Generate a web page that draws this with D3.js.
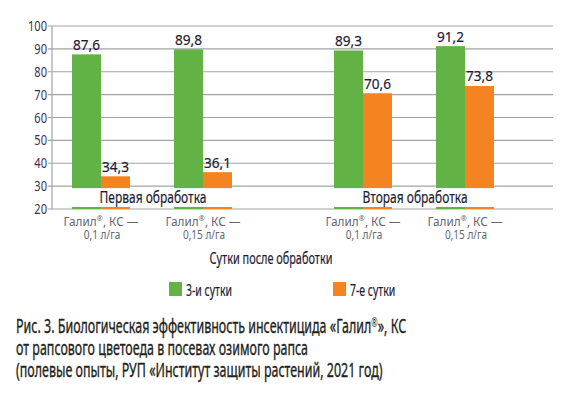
<!DOCTYPE html>
<html>
<head>
<meta charset="utf-8">
<script src="https://cdn.jsdelivr.net/npm/d3@7"></script>
<style>
  body { margin: 0; background: #fff; }
  svg { display: block; font-family: "Noto Sans", "Open Sans", sans-serif; }
</style>
</head>
<body>
<svg id="chart" width="575" height="399"></svg>
<script>
// data
let groups = ["Первая обработка", "Вторая обработка"];
let doses = ["0,1 л/га", "0,15 л/га"];
let seriesNames = ["3-и сутки", "7-е сутки"];
let day3 = [[87.6, 89.8], [89.3, 91.2]];
let day7 = [[34.3, 36.1], [70.6, 73.8]];
let yTicks = [20, 30, 40, 50, 60, 70, 80, 90, 100];
let axisTitle = "Сутки после обработки";
let drug = "Галил®, КС —";
let caption = [
	"Рис. 3. Биологическая эффективность инсектицида «Галил®», КС",
	"от рапсового цветоеда в посевах озимого рапса",
	"(полевые опыты, РУП «Институт защиты растений, 2021 год)"
];

let colours = ["#63b246", "#f38421"];
let ink = "#1e1c33";

let svg = d3.select("#chart");
let plotL = 52, plotR = 553, plotT = 26, plotB = 209,
	barW = 29;

// the original uses a condensed face; squeeze a normal one horizontally
// so that a sample string gets the width it has in the picture
function squeezeFor(str, size, width) {
	let probe = svg.append("text").attr("font-size", size).text(str.replace("®", ""));
	let k = width / probe.node().getComputedTextLength();
	probe.remove();
	return k;
}

// text with its own x-scale, placed at x,y
function label(x, y, size, k, fill, anchor, weight) {
	return svg.append("g")
		.attr("transform", `translate(${x},${y}) scale(${k},1)`)
		.append("text")
		.attr("text-anchor", anchor || "start")
		.attr("font-size", size)
		.attr("fill", fill)
		.attr("stroke", weight ? fill : "none")
		.attr("stroke-width", weight || 0);
}

// superscript ® inside a text (or tspan)
function withReg(t, str, size, rise) {
	let parts = str.split("®");
	t.append("tspan").text(parts[0]);
	t.append("tspan").attr("font-size", size).attr("dy", -rise).attr("stroke-width", 0).text("®");
	t.append("tspan").attr("dy", rise).text(parts[1]);
}

let y = d3.scaleLinear().domain([20, 100]).range([plotB, plotT]);
let xOuter = d3.scaleBand().domain(groups).range([21, 545]);
let xInner = d3.scalePoint().domain(doses).range([80, 182]);

// gridlines
svg.append("g")
	.selectAll("line")
	.data(yTicks)
	.join("line")
	.attr("x1", plotL - 4).attr("x2", plotR)
	.attr("y1", d => y(d)).attr("y2", d => y(d))
	.attr("stroke", "#a3a3a3").attr("stroke-width", 1.2);

// y axis line
svg.append("line")
	.attr("x1", plotL).attr("x2", plotL)
	.attr("y1", y(100)).attr("y2", y(20))
	.attr("stroke", "#a3a3a3").attr("stroke-width", 1.2);

let kTick = squeezeFor("100", 14.5, 19);
yTicks.forEach(d => {
	label(plotL - 5, y(d) + 5, 14.5, kTick, "#3b3150", "end").text(d);
});

// bars
let rows = [];
groups.forEach((g, gi) => {
	doses.forEach((d, di) => {
		let cx = xOuter(g) + xInner(d);
		rows.push({g, d, cx, v: day3[gi][di], s: 0});
		rows.push({g, d, cx, v: day7[gi][di], s: 1});
	});
});

svg.append("g")
	.selectAll("rect")
	.data(rows)
	.join("rect")
	.attr("x", r => r.s == 0 ? r.cx - barW : r.cx)
	.attr("width", barW)
	.attr("y", r => y(r.v))
	.attr("height", r => y(20) - y(r.v))
	.attr("fill", r => colours[r.s]);

// break in the bars where the group label sits
let kGroup = squeezeFor(groups[0], 15.5, 107);
groups.forEach(g => {
	let x0 = xOuter(g) + xInner(doses[0]) - barW,
		x1 = xOuter(g) + xInner(doses[1]) + barW;
	svg.append("rect")
		.attr("x", x0 - 1).attr("width", x1 - x0 + 2)
		.attr("y", y(30) + 2).attr("height", y(20) - y(30) - 4)
		.attr("fill", "#fff");
	label(xOuter(g) + xOuter.bandwidth() / 2 + 1, 203, 15.5, kGroup, ink, "middle", 0.2).text(g);
});

// value labels
let kVal = squeezeFor("87,6", 15, 27);
rows.forEach(r => {
	label(r.s == 0 ? r.cx - barW / 2 : r.cx + barW / 2, y(r.v) - 4.5, 15, kVal, ink, "middle", 0.2)
		.text(d3.format(".1f")(r.v).replace(".", ","));
});

// category labels
let kDrug = squeezeFor(drug, 12.5, 69),
	kDose = squeezeFor(doses[0], 13, 36.5);
groups.forEach(g => {
	doses.forEach(d => {
		let cx = xOuter(g) + xInner(d);
		withReg(label(cx, 225.7, 12.5, kDrug, "#666670", "middle"), drug, 8, 4.5);
		label(cx + 1, 239.3, 13, kDose, "#666670", "middle").text(d);
	});
});

// axis title
label(271, 264, 15.5, squeezeFor(axisTitle, 15.5, 123), ink, "middle", 0.2).text(axisTitle);

// legend
let legendX = [169, 333];
let kLeg = squeezeFor(seriesNames[0], 15.5, 46);
seriesNames.forEach((s, i) => {
	svg.append("rect")
		.attr("x", legendX[i]).attr("y", 282)
		.attr("width", 13).attr("height", 14)
		.attr("fill", colours[i]);
	label(legendX[i] + 17, 295.5, 15.5, kLeg, ink, "start", 0.2).text(s);
});

// caption, one text with a line per tspan
let kCap = squeezeFor(caption[0], 19.5, 384);
let cap = label(16, 333.4, 19.5, kCap, "#231f20", "start", 0.35);
caption.forEach((line, i) => {
	let t = cap.append("tspan").attr("x", 0).attr("y", i * 21.7);
	if (line.includes("®")) withReg(t, line, 12, 6.5);
	else t.text(line);
});
</script>
</body>
</html>
